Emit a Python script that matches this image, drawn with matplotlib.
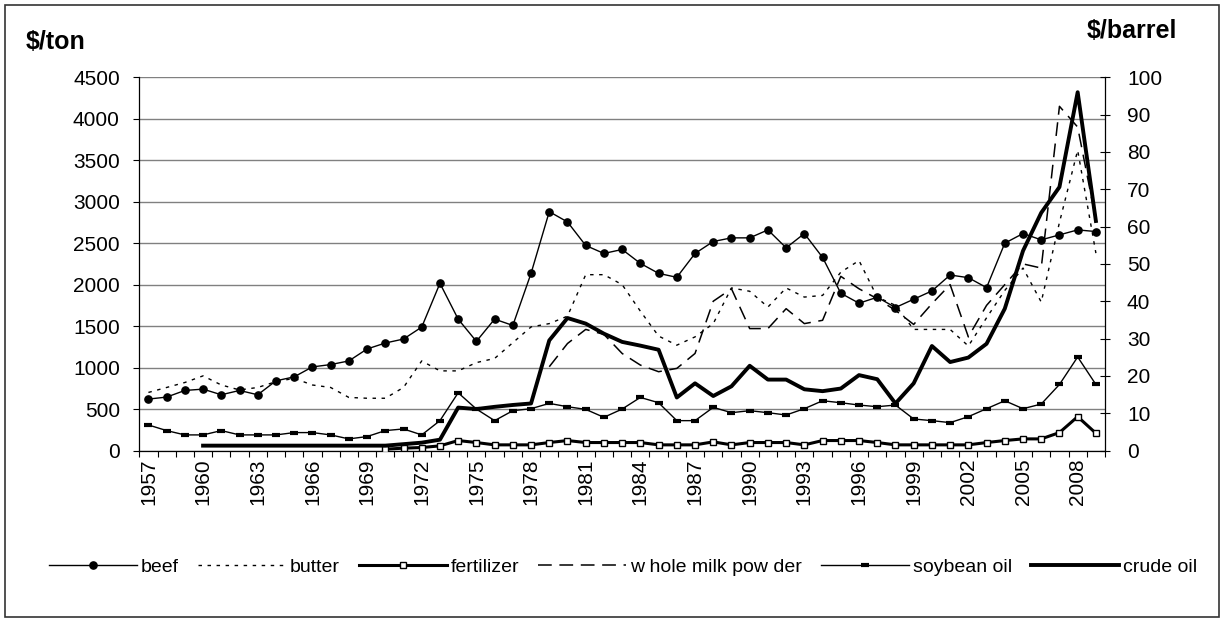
import numpy as np
import matplotlib
matplotlib.use("Agg")
import matplotlib.pyplot as plt
from matplotlib.patches import Rectangle

plt.rcParams['font.family'] = ['Liberation Sans', 'DejaVu Sans']

years = list(range(1957, 2010))
nan = None

beef = [620, 644, 724, 740, 672, 724, 672, 840, 888, 1008, 1036, 1080, 1224, 1296,
        1344, 1488, 2016, 1584, 1316, 1584, 1508, 2136, 2880, 2756, 2472, 2376, 2424,
        2256, 2136, 2088, 2376, 2520, 2564, 2564, 2660, 2444, 2616, 2328, 1896, 1776,
        1848, 1724, 1824, 1924, 2116, 2084, 1964, 2500, 2616, 2540, 2600, 2660, 2640]

butter = [700, 760, 820, 900, 790, 730, 760, 830, 870, 790, 760, 640, 630, 630,
          760, 1080, 960, 960, 1060, 1110, 1300, 1490, 1530, 1620, 2120, 2120, 2000,
          1680, 1380, 1270, 1370, 1530, 1960, 1920, 1730, 1960, 1850, 1870, 2150, 2290,
          1850, 1750, 1460, 1460, 1460, 1260, 1600, 1930, 2200, 1790, 2750, 3620, 2380]

fertilizer = [nan] * 13 + [16, 28, 36, 56, 120, 96, 68, 68, 68, 96, 120, 96, 96, 96,
                           96, 68, 68, 68, 104, 68, 96, 96, 96, 68, 120, 120, 120,
                           96, 68, 68, 68, 68, 68, 96, 120, 140, 140, 216, 408, 208]

whole_milk_powder = [nan] * 22 + [1010, 1290, 1460, 1400, 1170, 1030, 950, 990, 1170,
                                  1800, 1950, 1470, 1470, 1710, 1530, 1570, 2100, 1950,
                                  1830, 1690, 1520, 1770, 2000, 1370, 1750, 2000, 2250,
                                  2200, 4150, 3900, 2780]

soybean_oil = [308, 240, 188, 188, 240, 188, 188, 188, 216, 216, 188, 140, 168, 240,
               260, 188, 360, 696, 500, 360, 480, 504, 568, 528, 496, 400, 500,
               640, 576, 360, 360, 520, 456, 480, 456, 428, 504, 600, 576, 548,
               528, 548, 380, 360, 336, 408, 504, 600, 504, 560, 796, 1128, 796]

crude_oil = [nan] * 3 + [1.3, 1.3, 1.3, 1.3, 1.3, 1.3, 1.3, 1.3, 1.3, 1.3, 1.3,
                         1.7, 2.1, 2.9, 11.5, 11.1, 11.7, 12.2, 12.6, 29.5, 35.5, 34.0,
                         31.3, 29.1, 28.1, 27.0, 14.2, 18.0, 14.6, 17.2, 22.7, 19.0,
                         19.0, 16.4, 15.9, 16.6, 20.2, 19.1, 12.6, 18.0, 28.0, 23.7,
                         24.9, 28.6, 38.0, 53.5, 63.7, 70.6, 96.0, 61.5]

labels = ['beef', 'butter', 'fertilizer', 'w hole milk pow der', 'soybean oil', 'crude oil']

def arr(v):
    return np.array([np.nan if x is None else x for x in v], dtype=float)

x = np.arange(len(years))

fig = plt.figure(figsize=(12.22, 6.21), dpi=100)
ax = fig.add_axes([139.3 / 1222, 1 - 450.5 / 621, (1105 - 139.3) / 1222, (450.5 - 77.3) / 621])
ax2 = ax.twinx()

ax.set_ylim(0, 4500)
ax.set_yticks(np.arange(0, 4501, 500))
ax.yaxis.grid(True, color='#808080', lw=1.0)
ax.set_axisbelow(True)
ax2.set_ylim(0, 100)
ax2.set_yticks(np.arange(0, 101, 10))

ax.set_xlim(-0.5, len(years) - 0.5)
ax.set_xticks(np.arange(-0.5, len(years), 1.0))
ax.set_xticklabels([])
ax.tick_params(axis='x', which='major', direction='out', length=4.5, width=0.8, color='black')
ax.set_xticks(x[::3], minor=True)
ax.set_xticklabels([str(y) for y in years[::3]], minor=True, rotation=90, fontsize=15)
ax.tick_params(axis='x', which='minor', length=0, pad=6)

ax.tick_params(axis='y', direction='out', length=4, width=0.8, labelsize=15, pad=10)
ax2.tick_params(axis='y', direction='inout', length=7.5, width=0.8, labelsize=15, pad=12)

for a in (ax, ax2):
    a.spines['top'].set_visible(False)
    for s in ('left', 'right', 'bottom'):
        a.spines[s].set_color('black')
        a.spines[s].set_linewidth(0.9)
ax.spines['right'].set_visible(False)
ax2.spines['left'].set_visible(False)
ax2.spines['bottom'].set_visible(False)

l_beef, = ax.plot(x, arr(beef), color='black', lw=1.0, marker='o', ms=5.2, mfc='black', mec='black', zorder=5)
l_butter, = ax.plot(x, arr(butter), color='black', lw=1.0, linestyle=(0, (2.5, 4.0)), zorder=4)
l_fert, = ax.plot(x, arr(fertilizer), color='black', lw=2.2, marker='s', ms=4.2, mfc='white', mec='black', mew=1.0, zorder=5)
l_wmp, = ax.plot(x, arr(whole_milk_powder), color='black', lw=1.1, linestyle=(0, (9, 5)), zorder=4)
l_soy, = ax.plot(x, arr(soybean_oil), color='black', lw=1.0, marker='_', ms=5.5, mew=3.0, zorder=5)
l_crude, = ax2.plot(x, arr(crude_oil), color='black', lw=2.8, zorder=6)

fig.text(26 / 1222, 1 - 42 / 621, '$/ton', fontsize=18, fontweight='bold', va='center', ha='left')
fig.text(1087 / 1222, 1 - 31 / 621, '$/barrel', fontsize=18, fontweight='bold', va='center', ha='left')

handles = [l_beef, l_butter, l_fert, l_wmp, l_soy, l_crude]
leg = fig.legend(handles, labels, loc='center', bbox_to_anchor=(623 / 1222, 1 - 567 / 621),
                 ncol=6, frameon=False, fontsize=14, handlelength=4.5, handletextpad=0.2,
                 columnspacing=1.0, borderpad=0)

fig.patches.append(Rectangle((4.5 / 1222, 4 / 621), (1219 - 4.5) / 1222, (616.5 - 4) / 621,
                             transform=fig.transFigure, fill=False, edgecolor='#333333', lw=1.2))

fig.savefig('out.png', dpi=100)
